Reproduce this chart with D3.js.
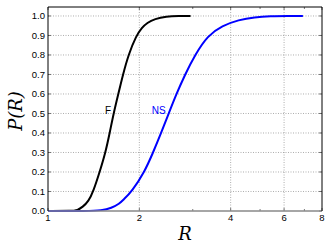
<!DOCTYPE html>
<html><head><meta charset="utf-8">
<script src="https://cdnjs.cloudflare.com/ajax/libs/d3/7.8.5/d3.min.js"></script>
<style>html,body{margin:0;padding:0;background:#fff;}</style>
</head><body><div id="chart"></div>
<script>
const xTicks = [1, 2, 4, 6, 8];
const xMinor = [3, 5, 7];
const yTicks = [0, 0.1, 0.2, 0.3, 0.4, 0.5, 0.6, 0.7, 0.8, 0.9, 1.0];
const seriesNames = ["F", "NS"];
const seriesColors = ["#000000", "#0000ff"];
const fR = [1.0, 1.2, 1.25, 1.3, 1.36, 1.41, 1.48, 1.547, 1.597, 1.645, 1.705, 1.767, 1.84, 1.955, 2.04, 2.12, 2.25, 2.45, 2.7, 2.95];
const fP = [0, 0, 0.004, 0.02, 0.05, 0.1, 0.2, 0.3, 0.4, 0.5, 0.6, 0.7, 0.8, 0.9, 0.94, 0.965, 0.985, 0.997, 1.0, 1.0];
const nsR = [1.0, 1.35, 1.5, 1.62, 1.72, 1.77, 1.89, 2.08, 2.22, 2.36, 2.5, 2.65, 2.83, 3.05, 3.36, 3.75, 4.25, 4.8, 5.4, 6.2, 6.92];
const nsP = [0, 0, 0.003, 0.015, 0.038, 0.057, 0.1, 0.2, 0.3, 0.4, 0.5, 0.6, 0.7, 0.8, 0.9, 0.95, 0.98, 0.994, 0.999, 1.0, 1.0];
const labelPos = [[1.613, 0.497], [2.443, 0.497]];

const W = 332, H = 251;
const m = {left: 48, right: 10, top: 7, bottom: 40};
const svg = d3.select("#chart").append("svg").attr("width", W).attr("height", H);
const x = d3.scaleLog().base(2).domain([1, 8]).range([m.left, W - m.right]);
const y = d3.scaleLinear().domain([0, 1.046]).range([H - m.bottom, m.top]);
const x0 = m.left, x1 = W - m.right, y0 = H - m.bottom, y1 = m.top;

// grid
svg.append("g").selectAll("line").data(yTicks.filter(d => d > 0)).join("line")
  .attr("x1", x0).attr("x2", x1).attr("y1", d => y(d)).attr("y2", d => y(d))
  .attr("stroke", "#999").attr("stroke-width", 0.8).attr("stroke-dasharray", "1,1.5");
svg.append("g").selectAll("line").data([2, 4, 6]).join("line")
  .attr("x1", d => x(d)).attr("x2", d => x(d)).attr("y1", y1).attr("y2", y0)
  .attr("stroke", "#999").attr("stroke-width", 0.8).attr("stroke-dasharray", "1,1.5");

// ticks inward
const tk = svg.append("g").attr("stroke", "#555").attr("stroke-width", 0.8);
xTicks.concat(xMinor).forEach(v => {
  const len = xMinor.includes(v) ? 2 : 3;
  tk.append("line").attr("x1", x(v)).attr("x2", x(v)).attr("y1", y0).attr("y2", y0 - len);
  tk.append("line").attr("x1", x(v)).attr("x2", x(v)).attr("y1", y1).attr("y2", y1 + len);
});
yTicks.forEach(v => {
  tk.append("line").attr("x1", x0).attr("x2", x0 + 3).attr("y1", y(v)).attr("y2", y(v));
  tk.append("line").attr("x1", x1).attr("x2", x1 - 3).attr("y1", y(v)).attr("y2", y(v));
});

// curves
const line = d3.line().x(d => x(d[0])).y(d => y(d[1])).curve(d3.curveBasis);
const data = [d3.zip(fR, fP), d3.zip(nsR, nsP)];
data.forEach((d, i) => {
  svg.append("path").datum(d).attr("d", line).attr("fill", "none")
    .attr("stroke", seriesColors[i]).attr("stroke-width", 2);
});

// frame
svg.append("line").attr("x1", x0).attr("x2", x1).attr("y1", y0).attr("y2", y0)
  .attr("stroke", "#888").attr("stroke-width", 1.6);
svg.append("path").attr("d", `M${x0},${y0}V${y1}H${x1}V${y0}`)
  .attr("fill", "none").attr("stroke", "#000").attr("stroke-width", 1);

// tick labels
svg.append("g").selectAll("text").data(yTicks).join("text")
  .attr("x", x0 - 3).attr("y", d => y(d)).attr("dy", "0.35em")
  .attr("text-anchor", "end").attr("font-family", "Liberation Sans, Arial, sans-serif")
  .attr("font-size", 9.5).attr("fill", "#000").text(d => d3.format(".1f")(d));
svg.append("g").selectAll("text").data(xTicks).join("text")
  .attr("x", d => x(d)).attr("y", y0 + 10)
  .attr("text-anchor", "middle").attr("font-family", "Liberation Sans, Arial, sans-serif")
  .attr("font-size", 9.5).attr("fill", "#000").text(d => d);

// series labels
seriesNames.forEach((n, i) => {
  svg.append("text").attr("x", x(labelPos[i][0])).attr("y", y(labelPos[i][1]))
    .attr("text-anchor", "end").attr("font-family", "Liberation Sans, Arial, sans-serif")
    .attr("font-size", 10).attr("fill", seriesColors[i]).text(n);
});

// axis titles
svg.append("text").attr("x", (x0 + x1) / 2).attr("y", 240).attr("text-anchor", "middle")
  .attr("font-family", "DejaVu Serif, Liberation Serif, serif").attr("font-style", "italic")
  .attr("font-size", 18).text("R");
svg.append("text").attr("transform", `translate(22,${(y0 + y1) / 2 + 2}) rotate(-90)`)
  .attr("text-anchor", "middle")
  .attr("font-family", "DejaVu Serif, Liberation Serif, serif").attr("font-style", "italic")
  .attr("font-size", 18).text("P(R)");
</script></body></html>
